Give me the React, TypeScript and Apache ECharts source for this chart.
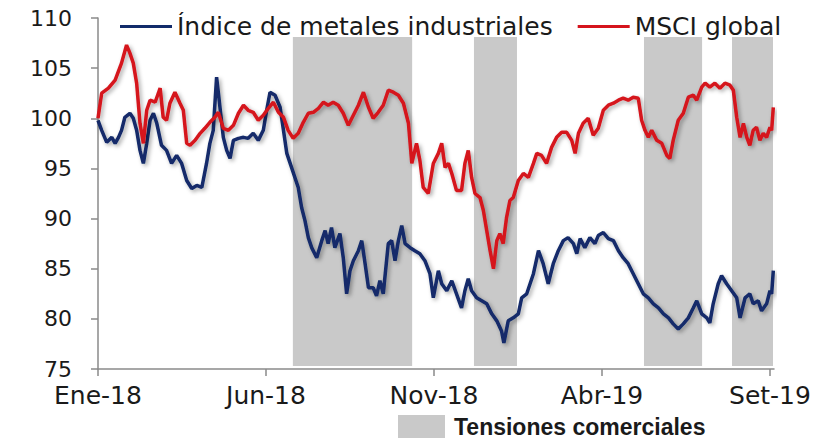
import React, { useEffect, useRef } from "react";
import * as echarts from "echarts";

// Positions in months since Jan 2018
const tickMeses = [0, 5, 10, 15, 20];
const tickEtiquetas = ["Ene-18", "Jun-18", "Nov-18", "Abr-19", "Set-19"];
const yTicks = [75, 80, 85, 90, 95, 100, 105, 110];

const mesesMetales = [
  0.0, 0.11, 0.26, 0.41, 0.51, 0.61, 0.7, 0.8, 0.95, 1.05, 1.15, 1.25, 1.35, 1.45, 1.55, 1.65, 1.75, 1.89,
  2.04, 2.19, 2.34, 2.49, 2.64, 2.79, 2.94, 3.09, 3.23, 3.33, 3.43, 3.53, 3.63, 3.73, 3.83, 3.93, 4.03, 4.18,
  4.33, 4.47, 4.62, 4.77, 4.92, 5.02, 5.12, 5.27, 5.42, 5.52, 5.62, 5.76, 5.86, 5.96, 6.06, 6.16, 6.26, 6.36,
  6.51, 6.66, 6.76, 6.85, 6.95, 7.05, 7.2, 7.3, 7.4, 7.5, 7.6, 7.75, 7.85, 7.95, 8.05, 8.19, 8.29, 8.39, 8.49,
  8.64, 8.74, 8.84, 8.94, 9.04, 9.14, 9.29, 9.43, 9.58, 9.73, 9.88, 9.98, 10.13, 10.23, 10.38, 10.53, 10.67,
  10.82, 10.92, 11.02, 11.12, 11.27, 11.42, 11.57, 11.72, 11.87, 12.01, 12.08, 12.21, 12.36, 12.51, 12.61,
  12.76, 12.86, 12.96, 13.11, 13.25, 13.4, 13.55, 13.7, 13.85, 13.99, 14.15, 14.25, 14.35, 14.49, 14.64,
  14.79, 14.89, 15.04, 15.19, 15.34, 15.49, 15.63, 15.78, 15.93, 16.08, 16.23, 16.38, 16.53, 16.68, 16.83,
  16.98, 17.12, 17.27, 17.42, 17.57, 17.72, 17.82, 17.97, 18.12, 18.21, 18.31, 18.46, 18.56, 18.71, 18.86,
  19.01, 19.11, 19.26, 19.4, 19.5, 19.65, 19.75, 19.9, 20.0, 20.05, 20.1,
];
const metales = [
  99.8, 98.8, 97.6, 98.1, 97.5, 98.1, 98.8, 100.1, 100.5, 100, 98.8, 96.8, 95.5, 97.5, 99.8, 100.5, 99.5, 97.3,
  96.8, 95.5, 96.3, 95.5, 93.8, 93, 93.3, 93.1, 95.5, 97.5, 98.8, 104.1, 101.1, 98.1, 96.8, 96, 97.8, 98,
  98.1, 98, 98.5, 97.8, 98.8, 100.8, 102.6, 102.3, 101.1, 98.8, 96.5, 95.1, 94.1, 93.1, 91.1, 89.8, 88.1, 87.1,
  86.1, 87.8, 88.8, 87.5, 89.1, 87.1, 88.5, 86.1, 82.5, 84.8, 85.8, 86.8, 87.8, 85.5, 83.1, 83.1, 82.3, 83.8, 82.5,
  87.5, 87.8, 85.8, 87.8, 89.3, 87.5, 87.1, 86.8, 86.5, 85.8, 84.5, 82.1, 84.8, 83.5, 82.8, 83.8, 82.5,
  81.1, 82.8, 84, 82.8, 82.1, 81.8, 81.5, 80.5, 79.8, 78.8, 77.6, 79.8, 80.1, 80.5, 82.1,
  82.5, 83.5, 84.5, 86.8, 85.5, 83.5, 85.5, 86.8, 87.8, 88.1, 87.5, 86.5, 88, 87.1, 88.1,
  87.5, 88.3, 88.6, 88, 87.8, 86.8, 86.1, 85.5, 84.5, 83.5, 82.5, 82.1, 81.5, 81.1, 80.5,
  80.1, 79.5, 79, 79.5, 80.1, 81.1, 81.8, 80.5, 80.1, 79.6, 81.5, 83.5, 84.3, 83.5, 82.8,
  82.1, 80.1, 82.1, 82.5, 81.5, 81.8, 80.8, 81.5, 82.8, 82.5, 84.8,
];

const mesesMsci = [
  0.0, 0.11, 0.31, 0.51, 0.7, 0.85, 0.95, 1.05, 1.15, 1.25, 1.35, 1.45, 1.55, 1.7, 1.85, 1.94, 2.04, 2.14,
  2.29, 2.44, 2.54, 2.64, 2.74, 2.89, 3.04, 3.18, 3.33, 3.48, 3.58, 3.73, 3.88, 4.03, 4.18, 4.33, 4.47, 4.62,
  4.77, 4.92, 5.07, 5.22, 5.37, 5.52, 5.66, 5.81, 5.96, 6.11, 6.26, 6.41, 6.56, 6.71, 6.85, 7.0, 7.15, 7.3,
  7.45, 7.6, 7.75, 7.9, 8.05, 8.19, 8.34, 8.49, 8.64, 8.79, 8.94, 9.09, 9.24, 9.34, 9.48, 9.58, 9.68, 9.83,
  9.98, 10.13, 10.23, 10.33, 10.43, 10.53, 10.67, 10.82, 10.92, 11.02, 11.12, 11.22, 11.37, 11.47, 11.57,
  11.67, 11.77, 11.87, 11.96, 12.06, 12.16, 12.26, 12.36, 12.51, 12.66, 12.81, 12.96, 13.06, 13.2, 13.35,
  13.5, 13.65, 13.8, 13.95, 14.1, 14.2, 14.3, 14.44, 14.59, 14.74, 14.89, 15.04, 15.19, 15.34, 15.49, 15.63,
  15.78, 15.93, 16.08, 16.18, 16.28, 16.38, 16.48, 16.63, 16.78, 16.93, 17.02, 17.12, 17.27, 17.42, 17.57,
  17.72, 17.82, 17.97, 18.07, 18.21, 18.36, 18.51, 18.66, 18.81, 18.91, 19.01, 19.11, 19.21, 19.31, 19.4,
  19.5, 19.6, 19.7, 19.8, 19.9, 20.0, 20.05, 20.1,
];
const msci = [
  100, 102.5, 103, 103.8, 105.5, 107.3, 106.5, 105.5, 103.5, 99.5, 97.5, 100.8, 101.8, 101.6, 103, 100.1, 99.8, 101.5,
  102.6, 101.5, 100.8, 97.5, 97.3, 97.8, 98.5, 99, 99.6, 100.1, 100.6, 99, 98.8, 99.3, 100.5, 101.3, 100.8, 100.6,
  99.8, 100.3, 101, 101.6, 100.6, 100.1, 98.8, 98, 98.5, 99.6, 100.5, 100.6, 101, 101.6, 101.3, 101.6, 101.3, 100.5,
  99.3, 100.3, 101.3, 102.6, 101.1, 100, 100.6, 101.3, 102.8, 102.6, 102.3, 101.5, 99.5, 95.5, 97.5, 95.8, 93.1, 92.5,
  95.5, 96.5, 97.5, 95.1, 95.5, 94.5, 92.8, 92.8, 95.5, 96.8, 94.1, 92.5, 92.1, 90.8, 88.8,
  86.8, 85, 87.8, 88.5, 87.5, 90.1, 91.8, 92.1, 93.8, 94.5, 94.1, 95.5, 96.5, 96.3, 95.5,
  97.1, 98.1, 98.6, 98.6, 97.8, 96.5, 98.5, 99.5, 100, 98.3, 99, 100.8, 101.3, 101.5, 101.8, 102,
  101.8, 102.1, 102, 99.8, 98.8, 98.1, 98.8, 97.8, 97.5, 96.3, 96, 97.8, 99.8, 100.5, 102.1,
  102.3, 101.8, 103.1, 103.5, 103.1, 103.5, 103, 103.5, 103.3, 102.8, 100.1, 98.1, 99.5, 98.1, 97.3,
  98.8, 99.1, 97.8, 98.5, 98.1, 99.1, 98.8, 101.1,
];

// Trade-tension periods [start, end] in months
const tensiones = [
  [5.8, 9.35],
  [11.19, 12.47],
  [16.25, 17.98],
  [18.87, 20.09],
];
const tensionTop = 108.1;
const tensionBottom = 75.3;

const NOMBRE_METALES = "Índice de metales industriales";
const NOMBRE_MSCI = "MSCI global";
const NOMBRE_TENSIONES = "Tensiones comerciales";

export default function App() {
  const ref = useRef<HTMLDivElement>(null);

  useEffect(() => {
    if (!ref.current) return;
    const chart = echarts.init(ref.current, null, { renderer: "svg" });
    const shadow = {
      shadowColor: "rgba(0,0,0,0.35)",
      shadowBlur: 4,
      shadowOffsetX: 2,
      shadowOffsetY: 2,
    };
    chart.setOption({
      animation: false,
      backgroundColor: "#ffffff",
      grid: { left: 98, right: 61, top: 18, bottom: 73 },
      legend: [
        {
          data: [
            { name: NOMBRE_METALES, icon: "rect" },
            { name: NOMBRE_MSCI, icon: "rect" },
          ],
          left: 115,
          top: 9,
          itemWidth: 52,
          itemHeight: 3,
          itemGap: 25,
          selectedMode: false,
          textStyle: { fontFamily: "DejaVu Sans", fontSize: 25, color: "#1a1a1a" },
        },
        {
          data: [{ name: NOMBRE_TENSIONES, icon: "rect" }],
          left: 393,
          top: 410,
          itemWidth: 47,
          itemHeight: 23,
          selectedMode: false,
          textStyle: {
            fontFamily: "Liberation Sans",
            fontWeight: "bold",
            fontSize: 23,
            color: "#1a1a1a",
            padding: [0, 0, 0, 4],
          },
        },
      ],
      xAxis: {
        type: "value",
        min: 0,
        max: 20.12,
        interval: 5,
        splitLine: { show: false },
        axisLine: { lineStyle: { color: "#8a8a8a", width: 1.5 } },
        axisTick: {
          show: true,
          length: 7,
          customValues: tickMeses,
          lineStyle: { color: "#8a8a8a", width: 1.5 },
        },
        axisLabel: {
          customValues: tickMeses,
          margin: 14,
          fontFamily: "DejaVu Sans",
          fontSize: 25,
          color: "#1a1a1a",
          formatter: (v: number) => {
            const i = tickMeses.indexOf(Math.round(v * 100) / 100);
            return i >= 0 ? tickEtiquetas[i] : "";
          },
        },
      },
      yAxis: {
        type: "value",
        min: yTicks[0],
        max: yTicks[yTicks.length - 1],
        interval: 5,
        splitLine: { show: false },
        axisLine: { show: true, lineStyle: { color: "#8a8a8a", width: 1.5 } },
        axisTick: { show: true, length: 7, lineStyle: { color: "#8a8a8a", width: 1.5 } },
        axisLabel: {
          margin: 26,
          fontFamily: "DejaVu Sans",
          fontSize: 22,
          color: "#1a1a1a",
        },
      },
      series: [
        {
          name: NOMBRE_TENSIONES,
          type: "bar",
          data: [],
          itemStyle: { color: "#c9c9c9" },
          color: "#c9c9c9",
        },
        {
          name: NOMBRE_METALES,
          type: "line",
          showSymbol: false,
          symbol: "none",
          color: "#122b6a",
          lineStyle: { width: 3.5, color: "#122b6a", ...shadow },
          data: mesesMetales.map((m, i) => [m, metales[i]]),
          markArea: {
            silent: true,
            itemStyle: { color: "#c9c9c9" },
            data: tensiones.map(([a, b]) => [
              { xAxis: a, yAxis: tensionTop },
              { xAxis: b, yAxis: tensionBottom },
            ]),
          },
          z: 3,
        },
        {
          name: NOMBRE_MSCI,
          type: "line",
          showSymbol: false,
          symbol: "none",
          color: "#d5141d",
          lineStyle: { width: 3.5, color: "#d5141d", ...shadow },
          data: mesesMsci.map((m, i) => [m, msci[i]]),
          z: 4,
        },
      ],
    });
    return () => chart.dispose();
  }, []);

  return (
    <div
      ref={ref}
      style={{ position: "fixed", left: 0, top: 0, width: 835, height: 442, background: "#fff" }}
    />
  );
}
